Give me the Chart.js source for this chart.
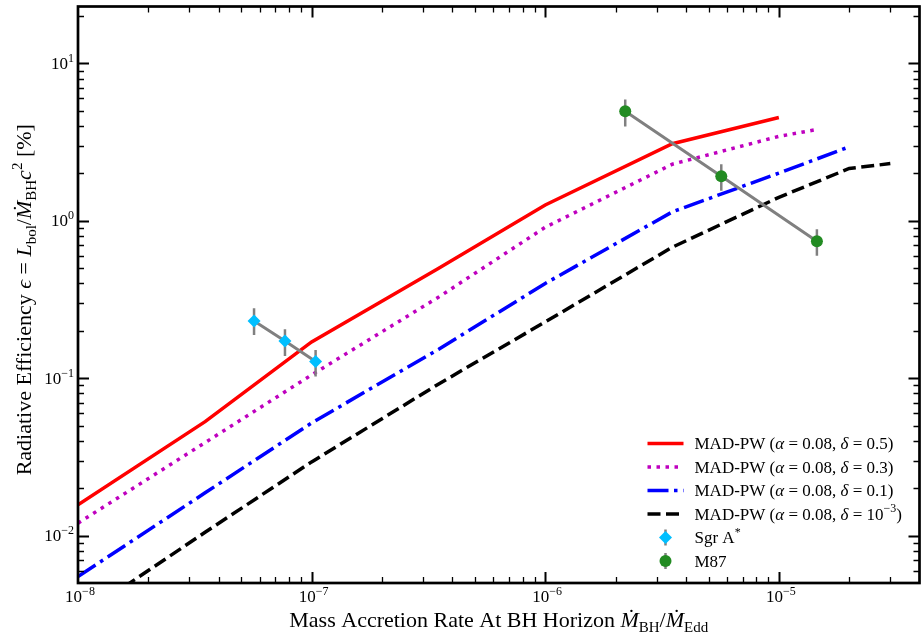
<!DOCTYPE html>
<html>
<head>
<meta charset="utf-8">
<script src="https://cdn.jsdelivr.net/npm/chart.js@4.4.1/dist/chart.umd.min.js"></script>
<style>
  html, body { margin: 0; padding: 0; background: #fff; overflow: hidden; }
  #wrap { width: 921px; height: 634px; overflow: hidden; }
  canvas { display: block; }
</style>
</head>
<body>
<div id="wrap"><canvas id="chart" width="926" height="634"></canvas></div>
<script>
const SERIF = "'Liberation Serif', 'DejaVu Serif', serif";
const GRAY = '#808080';

// axis ranges and labelled ticks (label = 10 raised to the exponent text)
const xMin = 1e-8, xMax = 4e-5;
const yMin = 5e-3, yMax = 23;
const xTickValues = [1e-8, 1e-7, 1e-6, 1e-5];
const xTickExps = ['−8', '−7', '−6', '−5'];
const yTickValues = [1e-2, 1e-1, 1, 10];
const yTickExps = ['−2', '−1', '0', '1'];

// MAD-PW model curves (accretion rate -> efficiency in %)
const delta05X = [1e-8, 3.5e-8, 1e-7, 3.5e-7, 1e-6, 3.5e-6, 1e-5];
const delta05 = [0.0157, 0.053, 0.17, 0.50, 1.26, 3.09, 4.53];
const delta03X = [1e-8, 3.5e-8, 1e-7, 3.5e-7, 1e-6, 3.5e-6, 1e-5, 1.45e-5];
const delta03 = [0.012, 0.039, 0.105, 0.328, 0.91, 2.29, 3.44, 3.8];
const delta01X = [1e-8, 3.5e-8, 1e-7, 3.5e-7, 1e-6, 3.5e-6, 1e-5, 2e-5];
const delta01 = [0.0055, 0.0187, 0.052, 0.153, 0.40, 1.14, 2.01, 2.95];
const delta0001X = [1e-8, 3.5e-8, 1e-7, 3.5e-7, 1e-6, 3.5e-6, 1e-5, 2e-5, 3e-5];
const delta0001 = [0.003, 0.0105, 0.0294, 0.092, 0.228, 0.68, 1.41, 2.15, 2.31];

// observations with error bars
const sgrX = [5.67e-8, 7.69e-8, 1.04e-7];
const sgrY = [0.231, 0.1725, 0.1275];
const sgrLo = [0.188, 0.1386, 0.1024];
const sgrHi = [0.278, 0.205, 0.151];
const m87X = [2.2e-6, 5.67e-6, 1.455e-5];
const m87Y = [4.96, 1.92, 0.743];
const m87Lo = [3.98, 1.55, 0.60];
const m87Hi = [5.91, 2.29, 0.885];

function pts(xs, ys) { return xs.map((x, i) => ({ x, y: ys[i] })); }

function modelLine(label, xs, ys, color, dash, row, runs) {
  return {
    label, data: pts(xs, ys), showLine: true, borderColor: color, backgroundColor: color,
    borderWidth: 3.5, borderDash: dash, pointRadius: 0, tension: 0, order: 2,
    legendRow: row, legendRuns: runs
  };
}

function errorBars(xs, lo, hi) {
  return xs.map((x, i) => ({
    data: [{ x, y: lo[i] }, { x, y: hi[i] }], showLine: true, borderColor: GRAY,
    borderWidth: 2.5, pointRadius: 0, order: 1
  }));
}

const madRuns = d => [['MAD-PW (', 'n'], ['α', 'i'], [' = 0.08, ', 'n'], ['δ', 'i'], [' = ' + d + ')', 'n']];

const datasets = [
  {
    label: 'Sgr A*', data: pts(sgrX, sgrY), showLine: true, borderColor: GRAY, borderWidth: 3,
    pointStyle: 'rectRot', pointRadius: 6.5, pointBackgroundColor: '#00bfff',
    pointBorderColor: '#00bfff', pointBorderWidth: 0, order: 0,
    legendRow: 4, legendRuns: [['Sgr A', 'n'], ['*', 'sup']]
  },
  {
    label: 'M87', data: pts(m87X, m87Y), showLine: true, borderColor: GRAY, borderWidth: 3,
    pointStyle: 'circle', pointRadius: 6, pointBackgroundColor: '#228b22',
    pointBorderColor: '#228b22', pointBorderWidth: 0, order: 0,
    legendRow: 5, legendRuns: [['M87', 'n']]
  },
  ...errorBars(sgrX, sgrLo, sgrHi),
  ...errorBars(m87X, m87Lo, m87Hi),
  modelLine('delta 0.5', delta05X, delta05, '#ff0000', [], 0, madRuns('0.5')),
  modelLine('delta 0.3', delta03X, delta03, '#bf00bf', [3.5, 5.5], 1, madRuns('0.3')),
  modelLine('delta 0.1', delta01X, delta01, '#0000ff', [21, 5.5, 3.5, 5.5], 2, madRuns('0.1')),
  modelLine('delta 1e-3', delta0001X, delta0001, '#000000', [13, 5.5], 3,
    [['MAD-PW (', 'n'], ['α', 'i'], [' = 0.08, ', 'n'], ['δ', 'i'], [' = 10', 'n'], ['−3', 'sup'], [')', 'n']])
];

function runFont(kind, size) {
  const s = (kind === 'sub' || kind === 'sup') ? Math.round(size * 0.7) : size;
  return (kind === 'i' ? 'italic ' : '') + s + 'px ' + SERIF;
}

function drawRuns(ctx, runs, x, y, size, align) {
  let w = 0;
  runs.forEach(([t, k]) => { ctx.font = runFont(k, size); w += ctx.measureText(t).width; });
  let cx = align === 'center' ? x - w / 2 : (align === 'right' ? x - w : x);
  ctx.textAlign = 'left';
  ctx.textBaseline = 'alphabetic';
  ctx.fillStyle = '#000';
  runs.forEach(([t, k]) => {
    ctx.font = runFont(k, size);
    const dy = k === 'sub' ? size * 0.22 : (k === 'sup' ? -size * 0.42 : 0);
    ctx.fillText(t, cx, y + dy);
    cx += ctx.measureText(t).width;
  });
}

// minor/major tick positions 1..9 x 10^n inside the axis range
function decadeTicks(min, max) {
  const out = [];
  for (let n = Math.floor(Math.log10(min)); n <= Math.ceil(Math.log10(max)); n++) {
    for (let k = 1; k <= 9; k++) {
      const v = k * Math.pow(10, n);
      if (v > min * 1.0001 && v < max * 0.9999) out.push({ v, major: k === 1 });
    }
  }
  return out;
}

function drawInwardTicks(ctx, scale, area, horizontal) {
  ctx.strokeStyle = '#000';
  decadeTicks(scale.min, scale.max).forEach(t => {
    const len = t.major ? 11 : 6;
    ctx.lineWidth = t.major ? 2 : 1.3;
    const p = Math.round(scale.getPixelForValue(t.v)) + 0.5;
    ctx.beginPath();
    if (horizontal) {
      ctx.moveTo(p, area.bottom); ctx.lineTo(p, area.bottom - len);
      ctx.moveTo(p, area.top); ctx.lineTo(p, area.top + len);
    } else {
      ctx.moveTo(area.left, p); ctx.lineTo(area.left + len, p);
      ctx.moveTo(area.right, p); ctx.lineTo(area.right - len, p);
    }
    ctx.stroke();
  });
}

const decor = {
  id: 'decor',
  afterDraw(chart) {
    const ctx = chart.ctx;
    const a = chart.chartArea;
    const sx = chart.scales.x, sy = chart.scales.y;
    ctx.save();

    // frame and ticks
    drawInwardTicks(ctx, sx, a, true);
    drawInwardTicks(ctx, sy, a, false);
    ctx.lineWidth = 2.7;
    ctx.strokeStyle = '#000';
    ctx.strokeRect(a.left, a.top, a.right - a.left, a.bottom - a.top);

    // tick labels
    xTickValues.forEach((v, i) => {
      drawRuns(ctx, [['10', 'n'], [xTickExps[i], 'sup']], sx.getPixelForValue(v) + 2, a.bottom + 19, 17, 'center');
    });
    yTickValues.forEach((v, i) => {
      drawRuns(ctx, [['10', 'n'], [yTickExps[i], 'sup']], a.left - 4, sy.getPixelForValue(v) + 5.5, 17, 'right');
    });

    // axis titles
    drawRuns(ctx, [
      ['Mass Accretion Rate At BH Horizon ', 'n'], ['Ṁ', 'i'], ['BH', 'sub'],
      ['/', 'n'], ['Ṁ', 'i'], ['Edd', 'sub']
    ], (a.left + a.right) / 2, a.bottom + 44, 22, 'center');

    ctx.save();
    ctx.translate(31, (a.top + a.bottom) / 2 + 5);
    ctx.rotate(-Math.PI / 2);
    drawRuns(ctx, [
      ['Radiative Efficiency ', 'n'], ['ϵ', 'i'], [' = ', 'n'], ['L', 'i'], ['bol', 'sub'],
      ['/', 'n'], ['Ṁ', 'i'], ['BH', 'sub'], ['c', 'i'], ['2', 'sup'], [' [%]', 'n']
    ], 0, 0, 22, 'center');
    ctx.restore();

    // legend
    const x0 = a.right - 272, x1 = a.right - 236, tx = a.right - 225;
    chart.data.datasets.forEach(ds => {
      if (ds.legendRow === undefined) return;
      const cy = a.bottom - 22 - (5 - ds.legendRow) * 23.5;
      if (ds.pointStyle) {
        const cx = (x0 + x1) / 2;
        ctx.strokeStyle = GRAY;
        ctx.lineWidth = 2.5;
        ctx.setLineDash([]);
        ctx.beginPath(); ctx.moveTo(cx, cy - 8); ctx.lineTo(cx, cy + 8); ctx.stroke();
        ctx.fillStyle = ds.pointBackgroundColor;
        Chart.helpers.drawPoint(ctx, { pointStyle: ds.pointStyle, radius: ds.pointRadius, rotation: 0, borderWidth: 0 }, cx, cy);
      } else {
        ctx.strokeStyle = ds.borderColor;
        ctx.lineWidth = ds.borderWidth;
        ctx.lineCap = 'butt';
        ctx.setLineDash(ds.borderDash);
        ctx.beginPath(); ctx.moveTo(x0, cy); ctx.lineTo(x1, cy); ctx.stroke();
        ctx.setLineDash([]);
      }
      drawRuns(ctx, ds.legendRuns, tx, cy + 5.5, 17, 'left');
    });
    ctx.restore();
  }
};

new Chart(document.getElementById('chart'), {
  type: 'scatter',
  data: { datasets },
  options: {
    responsive: false,
    animation: false,
    events: [],
    layout: { padding: { top: 6, right: 3, left: 0, bottom: 0 } },
    plugins: { legend: { display: false }, tooltip: { enabled: false } },
    scales: {
      x: {
        type: 'logarithmic', min: xMin, max: xMax,
        grid: { display: false }, border: { display: false },
        ticks: { display: false },
        afterFit: s => { s.height = 51; s.paddingLeft = 0; s.paddingRight = 0; }
      },
      y: {
        type: 'logarithmic', min: yMin, max: yMax,
        grid: { display: false }, border: { display: false },
        ticks: { display: false },
        afterFit: s => { s.width = 78; s.paddingTop = 0; s.paddingBottom = 0; }
      }
    }
  },
  plugins: [decor]
});
</script>
</body>
</html>
